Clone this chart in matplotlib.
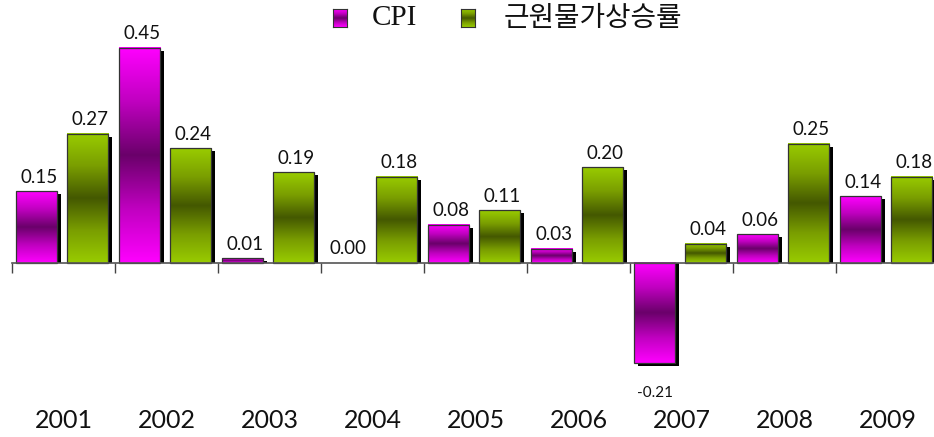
import numpy as np
import matplotlib
matplotlib.use("Agg")
import matplotlib.pyplot as plt
from matplotlib.colors import LinearSegmentedColormap

years = ["2001", "2002", "2003", "2004", "2005", "2006", "2007", "2008", "2009"]
cpi = [0.15, 0.45, 0.01, 0.00, 0.08, 0.03, -0.21, 0.06, 0.14]
core = [0.27, 0.24, 0.19, 0.18, 0.11, 0.20, 0.04, 0.25, 0.18]
cpi_labels = ["0.15", "0.45", "0.01", "0.00", "0.08", "0.03", "-0.21", "0.06", "0.14"]
core_labels = ["0.27", "0.24", "0.19", "0.18", "0.11", "0.20", "0.04", "0.25", "0.18"]
series_names = ["CPI", "근원물가상승률"]

W, H = 934, 437
fig = plt.figure(figsize=(W / 100, H / 100), dpi=100)
fig.patch.set_facecolor("white")

# axes spans past the right edge (the reference is cropped)
ax = fig.add_axes([12 / W, 0, (939 - 12) / W, 1])
ax.set_facecolor("none")

cmap_cpi = LinearSegmentedColormap.from_list("cpi", ["#FF00FF", "#C000C0", "#6A006A", "#C000C0", "#FF00FF"])
cmap_core = LinearSegmentedColormap.from_list("core", ["#99CC00", "#7A9E00", "#445800", "#7A9E00", "#99CC00"])
grad = np.linspace(0, 1, 256).reshape(-1, 1)

x = np.arange(len(years)) + 0.5
width = 0.40
offsets = [-0.262, 0.233]
# shadow offsets (style): ~4 px right, ~3 px down
sdx = 4 / 103
sdy = 3 / 478

for vals, labels, off, cmap in [(cpi, cpi_labels, offsets[0], cmap_cpi), (core, core_labels, offsets[1], cmap_core)]:
    xs = x + off
    vals_a = np.array(vals)
    # shadow
    sh_top = np.where(vals_a > 0, vals_a - sdy, vals_a - sdy)
    sh_bottom = np.where(vals_a > 0, 0.0, 0.0)
    mask = vals_a != 0
    ax.bar(xs[mask] + sdx, (sh_top - sh_bottom)[mask], bottom=sh_bottom[mask], width=width,
           color="black", edgecolor="none", zorder=2)
    bars = ax.bar(xs, vals, width=width, color="none", edgecolor="#333333", linewidth=0.9, zorder=4)
    for b, v, lab in zip(bars, vals, labels):
        if v == 0:
            b.set_visible(False)
        else:
            x0 = b.get_x()
            ax.imshow(grad, extent=(x0, x0 + b.get_width(), min(0, v), max(0, v)),
                      aspect="auto", cmap=cmap, zorder=3, interpolation="bilinear")
        cx = b.get_x() + b.get_width() / 2
        if v >= 0:
            ax.annotate(lab, (cx, v), xytext=(2, 4), textcoords="offset points",
                        ha="center", va="bottom", fontsize=13.5, family="Lato", color="#111111")
        else:
            ax.annotate(lab, (cx, v), xytext=(0, -21), textcoords="offset points",
                        ha="center", va="center", fontsize=11, family="Lato", color="#111111")

ax.set_xlim(0, len(years))
ax.set_ylim(-174 / 478, 263 / 478)

for s in ["top", "right", "left"]:
    ax.spines[s].set_visible(False)
ax.spines["bottom"].set_position(("data", 0))
ax.spines["bottom"].set_color("#555555")
ax.spines["bottom"].set_linewidth(1.2)
ax.spines["bottom"].set_zorder(5)
ax.set_xticks(np.arange(len(years) + 1))
ax.tick_params(axis="x", direction="out", length=7.5, width=1.0, color="#444444", labelbottom=False)
ax.set_yticks([])

for xi, yr in zip(x, years):
    ax.text(xi, -(421 - 263) / 478, yr, ha="center", va="center", fontsize=18, family="Lato", color="#111111")

# legend (manual, gradient markers)
for left, cmap in [(333, cmap_cpi), (461, cmap_core)]:
    lax = fig.add_axes([left / W, (H - 27) / H, 14 / W, 18 / H])
    lax.imshow(grad, aspect="auto", cmap=cmap, interpolation="bilinear")
    lax.set_xticks([]); lax.set_yticks([])
    for sp in lax.spines.values():
        sp.set_color("#333333"); sp.set_linewidth(0.8)

fig.text(372 / W, 1 - 18 / H, series_names[0], ha="left", va="center", fontsize=21,
         family="Liberation Serif", color="#111111")
fig.text(504 / W, 1 - 18 / H, series_names[1], ha="left", va="center", fontsize=20,
         family=["Noto Sans CJK KR", "DejaVu Sans"], color="#111111")

fig.savefig("out.png", dpi=100, facecolor="white")
